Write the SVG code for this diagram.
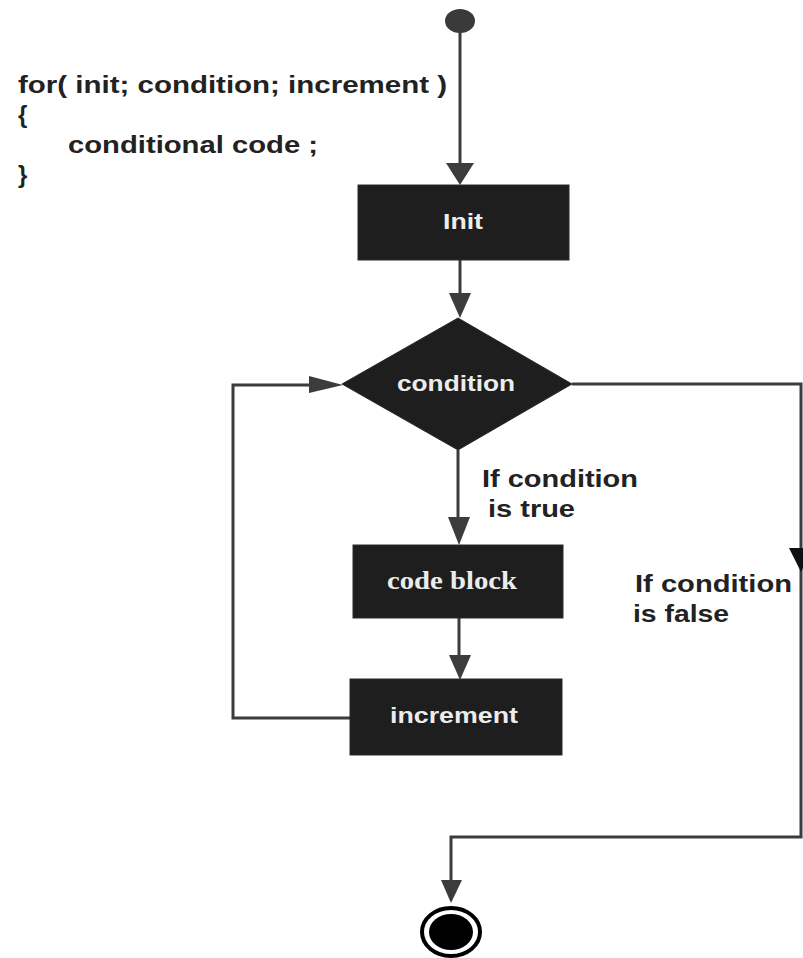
<svg xmlns="http://www.w3.org/2000/svg" width="803" height="958" viewBox="0 0 803 958">
<style>
.box{fill:#1e1e1e;stroke:#2a2a2a;stroke-width:1}
.btxt{font-family:"Liberation Sans",Arial,sans-serif;font-weight:bold;font-size:22px;fill:#ececec;text-anchor:middle}
.stxt{font-family:"Liberation Serif","Times New Roman",serif;font-weight:bold;font-size:26px;fill:#ececec;text-anchor:middle}
.code{font-family:"Liberation Sans",Arial,sans-serif;font-weight:bold;font-size:24px;fill:#222}
.lbl{font-family:"Liberation Sans",Arial,sans-serif;font-weight:bold;font-size:23px;fill:#222}
.ln{fill:none;stroke:#3c3c3c;stroke-width:3}
.ah{fill:#3c3c3c}
</style>
<rect width="803" height="958" fill="#ffffff"/>
<g id="code-text">
<text class="code" x="18" y="93" textLength="429" lengthAdjust="spacingAndGlyphs">for( init; condition; increment )</text>
<text class="code" x="18" y="123">{</text>
<text class="code" x="68" y="153" textLength="250" lengthAdjust="spacingAndGlyphs">conditional code ;</text>
<text class="code" x="18" y="183">}</text>
</g>
<g id="connectors">
<path class="ln" d="M460,30 V166"/>
<polygon class="ah" points="446,163 474,163 460,185"/>
<path class="ln" d="M460,260 V296"/>
<polygon class="ah" points="449,293 471,293 460,318"/>
<path class="ln" d="M458,450 V520"/>
<polygon class="ah" points="448,517 470,517 459,545"/>
<path class="ln" d="M459,618 V658"/>
<polygon class="ah" points="449,655 471,655 460,680"/>
<path class="ln" d="M350,718 H233 V385 H312"/>
<polygon class="ah" points="309,376 309,393 343,385"/>
<path class="ln" d="M572,384 H801 V837 H451 V883"/>
<polygon points="789,548 813,548 801,572" fill="#111"/>
<polygon class="ah" points="441,880 462,880 451,903"/>
</g>
<g id="start">
<ellipse cx="460" cy="21" rx="15" ry="12" fill="#3a3a3a"/>
</g>
<g id="init">
<rect class="box" x="358" y="185" width="211" height="75"/>
<text class="btxt" x="463" y="229" textLength="40" lengthAdjust="spacingAndGlyphs">Init</text>
</g>
<g id="condition">
<polygon class="box" points="458,318 572,384 458,450 342,384"/>
<text class="btxt" x="456" y="391" textLength="118" lengthAdjust="spacingAndGlyphs">condition</text>
</g>
<g id="true-label">
<text class="lbl" x="482" y="487" textLength="156" lengthAdjust="spacingAndGlyphs">If condition</text>
<text class="lbl" x="488" y="517" textLength="87" lengthAdjust="spacingAndGlyphs">is true</text>
</g>
<g id="code-block">
<rect class="box" x="353" y="545" width="210" height="73"/>
<text class="stxt" x="452" y="589" textLength="130" lengthAdjust="spacingAndGlyphs">code block</text>
</g>
<g id="false-label">
<text class="lbl" x="635" y="592" textLength="157" lengthAdjust="spacingAndGlyphs">If condition</text>
<text class="lbl" x="633" y="622" textLength="96" lengthAdjust="spacingAndGlyphs">is false</text>
</g>
<g id="increment">
<rect class="box" x="350" y="679" width="212" height="76"/>
<text class="btxt" x="454" y="723" textLength="128" lengthAdjust="spacingAndGlyphs">increment</text>
</g>
<g id="end">
<ellipse cx="451" cy="932" rx="29" ry="24" fill="#fff" stroke="#000" stroke-width="4"/>
<ellipse cx="451" cy="932" rx="22" ry="18" fill="#000"/>
</g>
</svg>
